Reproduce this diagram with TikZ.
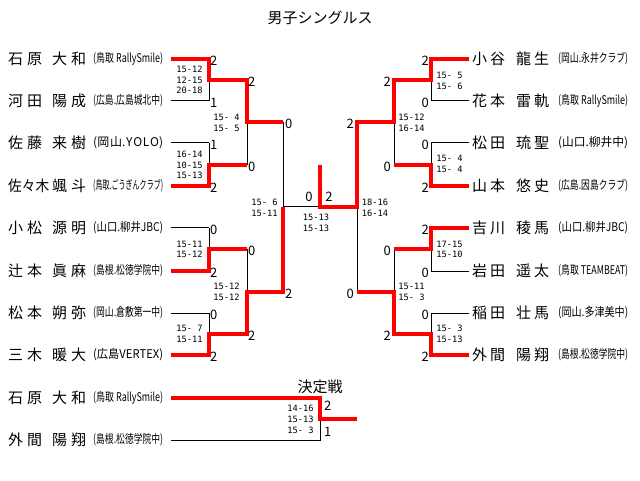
\documentclass[tikz,border=0pt]{standalone}
\usepackage{fontspec}
\usepackage{graphicx}
\setmainfont{Noto Sans CJK JP}
\newfontfamily\monof{DejaVu Sans Mono}
\newsavebox\affbox
\newlength\affw
\setlength\affw{70pt}
\newcommand\aff[1]{\sbox\affbox{#1}\ifdim\wd\affbox>\affw\relax\resizebox{\affw}{\height}{\usebox\affbox}\else\makebox[\affw][s]{#1}\fi}
\tikzset{
  br/.style={line width=1pt, black},
  win/.style={line width=3.2pt, red, line join=miter},
  nm/.style={anchor=west, inner sep=0pt, font=\fontsize{15}{15}\selectfont},
  af/.style={anchor=west, inner sep=0pt, font=\fontsize{12}{12}\selectfont},
  ptw/.style={anchor=west, inner sep=0pt, font=\fontsize{13}{13}\selectfont},
  pte/.style={anchor=east, inner sep=0pt, font=\fontsize{13}{13}\selectfont},
  ptc/.style={inner sep=0pt, font=\fontsize{13}{13}\selectfont},
  sc/.style={inner sep=0pt, align=center, font=\monof\fontsize{8.7}{10.7}\selectfont},
  ttl/.style={inner sep=0pt, font=\fontsize{15}{15}\selectfont}
}
\newcommand\lp[5]{%
  \node[nm] (#1a) at (8,#2) {\makebox[34pt][s]{#3}};
  \node[nm] (#1b) at (52,#2) {\makebox[34pt][s]{#4}};
  \node[af] (#1c) at (93,#2) {\aff{#5}};}
\newcommand\rp[5]{%
  \node[nm] (#1a) at (472,#2) {\makebox[33pt][s]{#3}};
  \node[nm] (#1b) at (516,#2) {\makebox[33pt][s]{#4}};
  \node[af] (#1c) at (558,#2) {\aff{#5}};}
\begin{document}
\begin{tikzpicture}[x=1pt,y=-1pt]
\useasboundingbox (0,0) rectangle (640,481);
\fill[white] (0,0) rectangle (640,481);
\node[ttl] (title) at (320,18) {男子シングルス};
% coordinates
\foreach \i/\y in {1/59,2/101,3/143,4/186,5/228,6/271,7/313,8/355}{
  \coordinate (p\i) at (171,\y); \coordinate (q\i) at (209,\y);
  \coordinate (P\i) at (469,\y); \coordinate (Q\i) at (431,\y);}
\foreach \i/\y in {1/80,2/165,3/249,4/334}{
  \coordinate (s\i) at (209,\y); \coordinate (t\i) at (247,\y);
  \coordinate (S\i) at (431,\y); \coordinate (T\i) at (394,\y);}
\foreach \i/\y in {1/122,2/292}{
  \coordinate (u\i) at (247,\y); \coordinate (v\i) at (283,\y);
  \coordinate (U\i) at (394,\y); \coordinate (V\i) at (357,\y);}
\coordinate (w) at (283,207); \coordinate (c) at (320,207);
\coordinate (W) at (357,207); \coordinate (top) at (320,165);
% black bracket
\foreach \i in {1,...,8}{\draw[br] (p\i) -- (q\i); \draw[br] (P\i) -- (Q\i);}
\foreach \a/\b in {1/2,3/4,5/6,7/8}{\draw[br] (q\a) -- (q\b); \draw[br] (Q\a) -- (Q\b);}
\foreach \i in {1,...,4}{\draw[br] (s\i) -- (t\i); \draw[br] (S\i) -- (T\i);}
\foreach \a/\b in {1/2,3/4}{\draw[br] (t\a) -- (t\b); \draw[br] (T\a) -- (T\b);}
\foreach \i in {1,2}{\draw[br] (u\i) -- (v\i); \draw[br] (U\i) -- (V\i);}
\draw[br] (v1) -- (v2); \draw[br] (V1) -- (V2);
\draw[br] (w) -- (W);
% winners
\draw[win] (p1) -- (q1) -- (s1) -- (t1) -- (u1) -- (v1);
\draw[win] (p4) -- (q4) -- (s2) -- (t2);
\draw[win] (p6) -- (q6) -- (s3) -- (t3);
\draw[win] (p8) -- (q8) -- (s4) -- (t4) -- (u2) -- (v2) -- (w);
\draw[win] (P1) -- (Q1) -- (S1) -- (T1) -- (U1) -- (V1) -- (W) -- (c) -- (top);
\draw[win] (P4) -- (Q4) -- (S2) -- (T2);
\draw[win] (P5) -- (Q5) -- (S3) -- (T3);
\draw[win] (P8) -- (Q8) -- (S4) -- (T4) -- (U2) -- (V2);
% players left
\lp{l1}{59}{石\hfill 原}{大\hfill 和}{(鳥取 RallySmile)}
\lp{l2}{101}{河\hfill 田}{陽\hfill 成}{(広島.\hfil 広島城北中)}
\lp{l3}{143}{佐\hfill 藤}{来\hfill 樹}{(岡\hfil 山.\hfil Y\hfil O\hfil L\hfil O)}
\lp{l4}{186}{\resizebox{41pt}{\height}{佐々木}}{颯\hfill 斗}{(鳥取.\hfil ごうぎんクラブ)}
\lp{l5}{228}{小\hfill 松}{源\hfill 明}{(山\hfil 口.\hfil 柳\hfil 井\hfil J\hfil B\hfil C)}
\lp{l6}{271}{辻\hfill 本}{眞\hfill 麻}{(島根.\hfil 松徳学院中)}
\lp{l7}{313}{松\hfill 本}{朔\hfill 弥}{(岡山.\hfil 倉敷第一中)}
\lp{l8}{355}{三\hfill 木}{暖\hfill 大}{(広\hfil 島\hfil \hfil V\hfil E\hfil R\hfil T\hfil E\hfil X)}
% players right
\rp{r1}{59}{小\hfill 谷}{龍\hfill 生}{(岡山.\hfil 永井クラブ)}
\rp{r2}{101}{花\hfill 本}{雷\hfill 軌}{(鳥取 RallySmile)}
\rp{r3}{143}{松\hfill 田}{琉\hfill 聖}{(山\hfil 口.\hfil 柳\hfil 井\hfil 中)}
\rp{r4}{186}{山\hfill 本}{悠\hfill 史}{(広島.\hfil 因島クラブ)}
\rp{r5}{228}{吉\hfill 川}{稜\hfill 馬}{(山\hfil 口.\hfil 柳\hfil 井\hfil J\hfil B\hfil C)}
\rp{r6}{271}{岩\hfill 田}{遥\hfill 太}{(鳥取 TEAMBEAT)}
\rp{r7}{313}{稲\hfill 田}{壮\hfill 馬}{(岡山.\hfil 多津美中)}
\rp{r8}{355}{外\hfill 間}{陽\hfill 翔}{(島根.\hfil 松徳学院中)}
% game counts left
\foreach \i/\y/\g in {1/59/2,2/101/1,3/143/1,4/186/2,5/228/0,6/271/2,7/313/0,8/355/2}
  \node[ptw] (gl\i) at (210,\y+1.5) {\g};
\foreach \i/\y/\g in {1/80/2,2/165/0,3/249/0,4/334/2}
  \node[ptw] (hl\i) at (248,\y+1.5) {\g};
\node[ptw] (kl1) at (285,123.5) {0};
\node[ptw] (kl2) at (285,293.5) {2};
% game counts right
\foreach \i/\y/\g in {1/59/2,2/101/0,3/143/0,4/186/2,5/228/2,6/271/0,7/313/0,8/355/2}
  \node[pte] (gr\i) at (429,\y+1.5) {\g};
\foreach \i/\y/\g in {1/80/2,2/165/0,3/249/0,4/334/2}
  \node[pte] (hr\i) at (391,\y+1.5) {\g};
\node[pte] (kr1) at (354,123.5) {2};
\node[pte] (kr2) at (354,293.5) {0};
% final
\node[ptc] (fl) at (309,196.5) {0};
\node[ptc] (fr) at (329,196.5) {2};
% scores
\node[sc] (a1) at (189.5,80) {15-12\\12-15\\20-18};
\node[sc] (a2) at (189.5,165) {16-14\\10-15\\15-13};
\node[sc] (a3) at (189.5,249.5) {15-11\\15-12};
\node[sc] (a4) at (189.5,334) {15-\phantom{0}7\\15-11};
\node[sc] (b1) at (226.5,123) {15-\phantom{0}4\\15-\phantom{0}5};
\node[sc] (b2) at (226.5,292) {15-12\\15-12};
\node[sc] (cl) at (264.5,208) {15-\phantom{0}6\\15-11};
\node[sc] (fs) at (316,223) {15-13\\15-13};
\node[sc] (cr) at (375,208) {18-16\\16-14};
\node[sc] (B1) at (411.5,123) {15-12\\16-14};
\node[sc] (B2) at (411.5,292) {15-11\\15-\phantom{0}3};
\node[sc] (A1) at (449.5,80.5) {15-\phantom{0}5\\15-\phantom{0}6};
\node[sc] (A2) at (449.5,164) {15-\phantom{0}4\\15-\phantom{0}4};
\node[sc] (A3) at (449.5,249.5) {17-15\\15-10};
\node[sc] (A4) at (449.5,334) {15-\phantom{0}3\\15-13};
% playoff
\node[ttl] (kettei) at (320,387) {決定戦};
\coordinate (x1) at (171,398); \coordinate (x2) at (320,398);
\coordinate (x3) at (320,419); \coordinate (x4) at (357,419);
\coordinate (y1) at (171,440); \coordinate (y2) at (320,440);
\draw[br] (y1) -- (y2) -- (x3);
\draw[win] (x1) -- (x2) -- (x3) -- (x4);
\lp{m1}{398}{石\hfill 原}{大\hfill 和}{(鳥取 RallySmile)}
\lp{m2}{440}{外\hfill 間}{陽\hfill 翔}{(島根.\hfil 松徳学院中)}
\node[ptw] (pm1) at (324,406) {2};
\node[ptw] (pm2) at (324,432) {1};
\node[sc] (ps) at (300.5,419.5) {14-16\\15-13\\15-\phantom{0}3};
\end{tikzpicture}
\end{document}
